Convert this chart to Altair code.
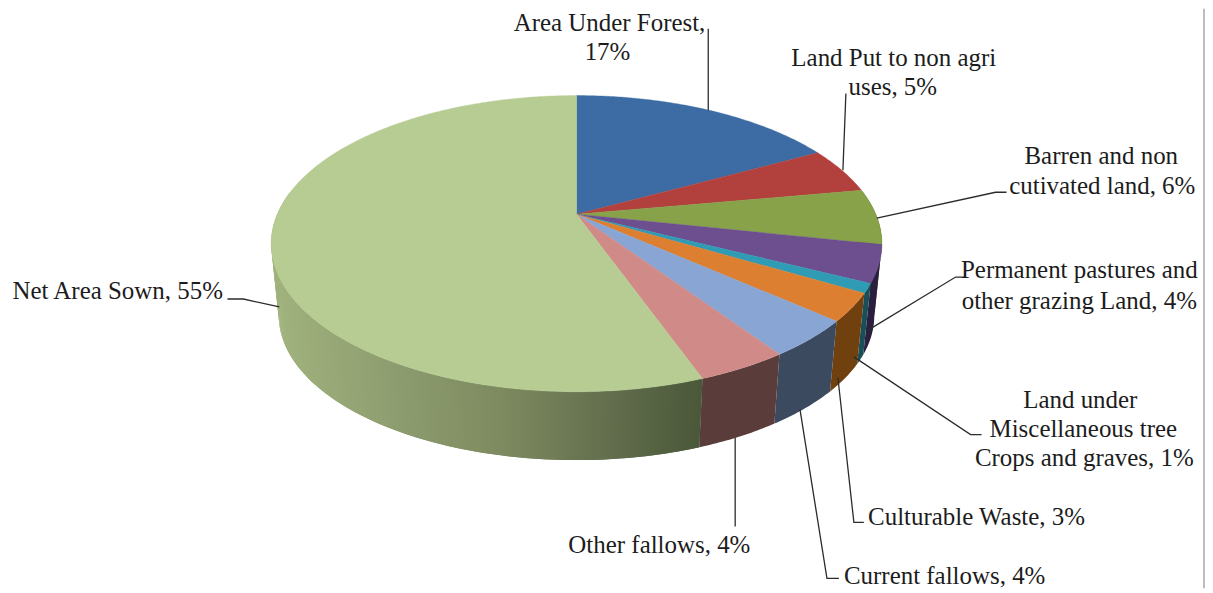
import math
import altair as alt
import pandas as pd

# ---- chart values, as labelled on the picture ----
CATEGORIES = ["Area Under Forest", "Land Put to non agri uses", "Barren and non cutivated land",
              "Permanent pastures and other grazing Land", "Land under Miscellaneous tree Crops and graves",
              "Culturable Waste", "Current fallows", "Other fallows", "Net Area Sown"]
SHARES = [17, 5, 6, 4, 1, 3, 4, 4, 55]
TOP_COLORS = ["#3d6ca4", "#b2403d", "#87a249", "#6d4e8e", "#2f9bb4", "#dc7f31", "#88a5d3", "#d08b89", "#b7cc93"]
SIDE_COLORS = ["#2a4060", "#642826", "#4e5f2c", "#2a1f3f", "#1a4f58", "#70400f", "#3b4a5e", "#5a3c3a", None]
GRADIENT_X = [275, 400, 500, 600, 697]
GRADIENT_RGB = [(160, 178, 125), (140, 155, 110), (125, 138, 95), (100, 112, 78), (75, 88, 58)]

LABEL_TEXT = ["Area Under Forest,", "17%", "Land Put to non agri", "uses, 5%", "Barren and non",
              "cutivated land, 6%", "Permanent pastures and", "other grazing Land, 4%", "Land under",
              "Miscellaneous tree", "Crops and graves, 1%", "Culturable Waste, 3%", "Current fallows, 4%",
              "Other fallows, 4%", "Net Area Sown, 55%"]

# ---- page layout (page pixels) ----
LABEL_X = [610, 608, 895, 894, 1103, 1104, 1081, 1081, 1082, 1085, 1086, 978, 946, 660, 117]
LABEL_Y = [30, 59, 65, 94, 164, 194, 278, 309, 408, 437, 466, 526, 585, 554, 299]
LEADERS = [[(709, 28), (709, 110)],
           [(847, 93), (844, 170)],
           [(878, 218), (997, 192), (1008, 192)],
           [(967, 277), (957, 277), (868, 331)],
           [(855, 357), (972, 435), (983, 435)],
           [(839, 378), (855, 523), (865, 523)],
           [(801, 410), (828, 579), (840, 579)],
           [(736, 438), (736, 527)],
           [(279, 307), (243, 299), (227, 299)]]
OX, OY = 7, 8
W, H = 1200, 581
BORDER_X = 1199
CX, AY = 577, 214        # centre of the pie as drawn (wedge apex)
PERSP, SX, SY = 0.1987, 300.0, 142.6
SCALE_B, DEPTH = 0.975, 73


def rim(theta, bottom=False):
    x, y = math.sin(theta), math.cos(theta)
    k = 1 + PERSP * y
    px, py = SX * x / k, SY * y / k
    if bottom:
        return [CX + SCALE_B * px - OX, AY + DEPTH - SCALE_B * py - OY]
    return [CX + px - OX, AY - py - OY]


def feature(ring, color):
    return {"type": "Feature", "properties": {"c": color},
            "geometry": {"type": "Polygon", "coordinates": [ring + [ring[0]]]}}


def gradient(x):
    if x <= GRADIENT_X[0]:
        rgb = GRADIENT_RGB[0]
    elif x >= GRADIENT_X[-1]:
        rgb = GRADIENT_RGB[-1]
    else:
        for i in range(len(GRADIENT_X) - 1):
            if GRADIENT_X[i] <= x <= GRADIENT_X[i + 1]:
                t = (x - GRADIENT_X[i]) / (GRADIENT_X[i + 1] - GRADIENT_X[i])
                rgb = [GRADIENT_RGB[i][j] + t * (GRADIENT_RGB[i + 1][j] - GRADIENT_RGB[i][j]) for j in range(3)]
                break
    return "#%02x%02x%02x" % tuple(int(round(c)) for c in rgb)


total = sum(SHARES)
edges = [0.0]
for s in SHARES:
    edges.append(edges[-1] + s / total * 2 * math.pi)

tops, sides = [], []
STEP = math.radians(0.6)
LO, HI = math.radians(80), math.radians(280)
for i in range(len(SHARES)):
    a, b = edges[i], edges[i + 1]
    n = max(2, int((b - a) / STEP))
    ts = [a + (b - a) * k / n for k in range(n + 1)]
    tops.append(feature([[CX - OX, AY - OY]] + [rim(t) for t in ts], TOP_COLORS[i]))
    vis = [t for t in ts if LO <= t <= HI]
    if len(vis) < 2:
        continue
    if SIDE_COLORS[i]:
        sides.append(feature([rim(t) for t in vis] + [rim(t, True) for t in reversed(vis)], SIDE_COLORS[i]))
    else:
        for j in range(len(vis) - 1):
            t0, t1 = vis[j], vis[j + 1]
            back = vis[max(0, j - 1)]      # overlap the previous strip so no seam shows
            sides.append(feature([rim(back), rim(t1), rim(t1, True), rim(back, True)],
                                 gradient(rim((t0 + t1) / 2)[0] + OX)))

PROJ = dict(type="identity", scale=1, translate=[0, 0])
side_layer = alt.Chart(alt.Data(values=sides)).mark_geoshape(strokeWidth=0).encode(
    fill=alt.Fill("properties.c:N", scale=None)
).project(**PROJ)
top_layer = alt.Chart(alt.Data(values=tops)).mark_geoshape(strokeWidth=0.4).encode(
    fill=alt.Fill("properties.c:N", scale=None), stroke=alt.Stroke("properties.c:N", scale=None)
).project(**PROJ)

xs = alt.Scale(domain=[0, W], range=[0, W], nice=False, zero=False)
ys = alt.Scale(domain=[0, H], range=[0, H], nice=False, zero=False)

rows = []
for g, pts in enumerate(LEADERS):
    for o, (x, y) in enumerate(pts):
        rows.append({"g": g, "o": o, "x": x - OX, "y": y - OY})
lines = alt.Chart(pd.DataFrame(rows)).mark_line(color="#2b2b2b", strokeWidth=1.3).encode(
    x=alt.X("x:Q", scale=xs, axis=None), y=alt.Y("y:Q", scale=ys, axis=None),
    detail="g:N", order="o:Q")

labels = pd.DataFrame({"t": LABEL_TEXT, "x": [v - OX for v in LABEL_X], "y": [v - OY for v in LABEL_Y]})
text = alt.Chart(labels).mark_text(font="Liberation Serif", fontSize=25, color="#1c1c1c",
                                   align="center", baseline="alphabetic").encode(
    x=alt.X("x:Q", scale=xs, axis=None), y=alt.Y("y:Q", scale=ys, axis=None), text="t:N")

border = alt.Chart(pd.DataFrame({"a": [0]})).mark_rule(color="#a8a8a8", strokeWidth=1.5).encode(x=alt.value(BORDER_X))

chart = alt.layer(side_layer, top_layer, lines, border, text).properties(
    width=W, height=H, padding=0, autosize=alt.AutoSizeParams(type="none"), background="white"
).configure_view(stroke=None)

chart.save("out.html", embed_options={"renderer": "svg", "actions": False})
